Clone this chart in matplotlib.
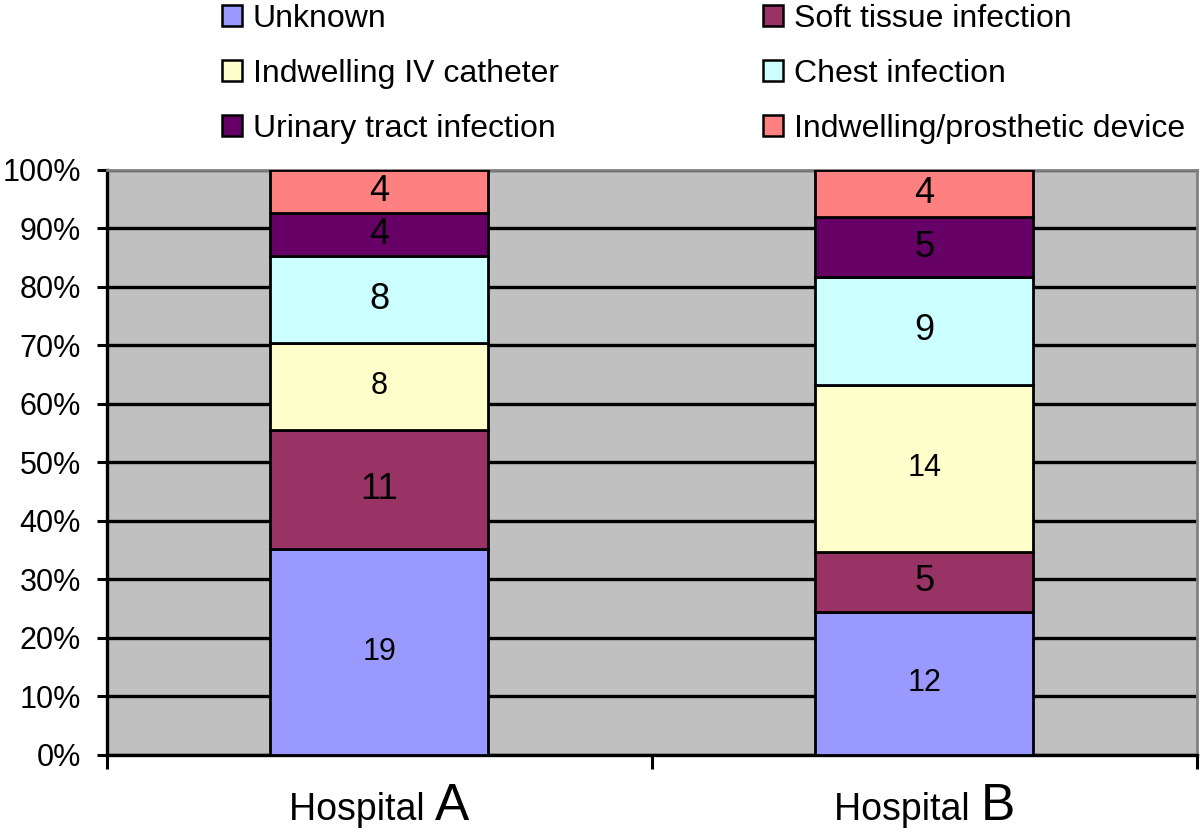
import numpy as np
import matplotlib; matplotlib.use("Agg"); import matplotlib.pyplot as plt
from matplotlib.offsetbox import TextArea, HPacker, AnnotationBbox
from matplotlib.patches import Patch
from matplotlib.ticker import PercentFormatter

plt.rcParams['font.family'] = ['Liberation Sans', 'DejaVu Sans']

hospitals = ["A", "B"]
categories = ["Unknown", "Soft tissue infection", "Indwelling IV catheter",
              "Chest infection", "Urinary tract infection", "Indwelling/prosthetic device"]
counts_a = [19, 11, 8, 8, 4, 4]
counts_b = [12, 5, 14, 9, 5, 4]
colors = ["#9999FF", "#993366", "#FFFFCC", "#CCFFFF", "#660066", "#FF8080"]
label_sizes = [22, 26, 22, 26, 26, 26]

counts = np.array([counts_a, counts_b], dtype=float)
pct = counts / counts.sum(axis=1, keepdims=True) * 100

fig = plt.figure(figsize=(12, 8.36), dpi=100)
ax = fig.add_axes([0.089, 0.097, 0.9085, 0.7])
ax.set_facecolor("#C0C0C0")
x = np.arange(len(hospitals))
ax.set_xlim(-0.5, 1.5); ax.set_ylim(0, 100)
ax.yaxis.grid(True, color="black", lw=2.4); ax.set_axisbelow(True)

bottom = np.zeros(len(hospitals))
for i, cat in enumerate(categories):
    ax.bar(x, pct[:, i], 0.4, bottom=bottom, color=colors[i], edgecolor="black", lw=2, zorder=3)
    for j in range(len(hospitals)):
        ax.text(x[j], bottom[j] + pct[j, i] / 2, f"{int(counts[j, i])}", ha="center", va="center",
                fontsize=label_sizes[i], zorder=4)
    bottom += pct[:, i]

ax.set_yticks(np.arange(0, 101, 10))
ax.yaxis.set_major_formatter(PercentFormatter(decimals=0))
ax.tick_params(axis="y", labelsize=22, length=7.5, width=2.2, pad=11)
ax.set_xticks([-0.5, 0.5, 1.5]); ax.set_xticklabels([])
ax.tick_params(axis="x", length=10, width=2.2)
for s in ["left", "bottom"]:
    ax.spines[s].set_linewidth(2.4)
for s in ["top", "right"]:
    ax.spines[s].set_color("#808080"); ax.spines[s].set_linewidth(2)

for j, h in enumerate(hospitals):
    box = HPacker(children=[TextArea("Hospital ", textprops=dict(fontsize=27)),
                            TextArea(h, textprops=dict(fontsize=37))], align="baseline", pad=0, sep=0)
    ab = AnnotationBbox(box, (x[j], 0), xybox=(0, -37), xycoords=("data", "axes fraction"),
                        boxcoords="offset points", frameon=False, box_alignment=(0.5, 0.5))
    ax.add_artist(ab)

order = [0, 2, 4, 1, 3, 5]
handles = [Patch(facecolor=colors[i], edgecolor="black", lw=1.8) for i in order]
fig.legend(handles, [categories[i] for i in order], ncol=2, loc="upper left",
           bbox_to_anchor=(0.161, 1.03), frameon=False, fontsize=23,
           handlelength=0.62, handleheight=0.62, handletextpad=0.35,
           columnspacing=6.4, labelspacing=0.78)

fig.savefig("out.png", dpi=100, facecolor="white")
